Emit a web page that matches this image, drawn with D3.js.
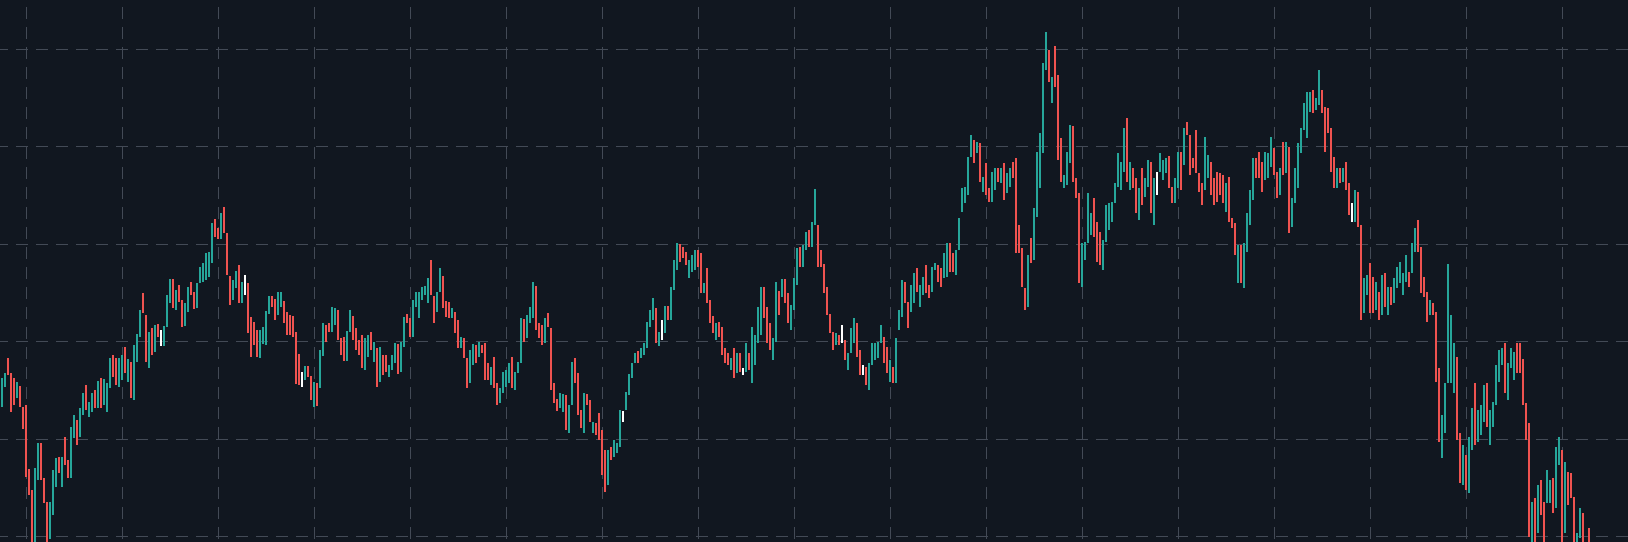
<!DOCTYPE html>
<html>
<head>
<meta charset="utf-8">
<script src="https://cdn.jsdelivr.net/npm/d3@7"></script>
<style>
  html, body { margin: 0; padding: 0; background: #121822; overflow: hidden; }
  svg { display: block; }
</style>
</head>
<body>
<svg id="chart" width="1628" height="542"></svg>
<script>
// ---- DATA (one value per bar) ----
const openPrices = [
193,213,242,227,222,202,214,193,195,131,110,52,120,157,122,98,61,85,113,143,
113,163,140,122,162,180,163,185,215,183,188,210,192,222,195,188,212,245,242,213,
220,253,218,238,200,238,263,307,285,232,272,248,276,254,254,273,297,321,290,315,
300,274,288,318,308,292,317,318,320,323,337,381,372,361,393,367,324,300,312,335,
297,305,317,283,278,270,242,256,255,286,304,301,285,293,299,288,285,284,268,246,
213,220,234,224,193,217,212,244,275,277,268,275,290,262,263,239,268,284,272,260,
265,230,243,268,238,252,218,245,245,223,230,237,256,228,253,286,282,263,293,282,
300,305,297,340,304,288,308,324,299,298,282,288,280,252,262,242,217,235,255,243,
255,257,237,215,243,217,197,207,213,217,243,210,227,237,281,262,277,282,314,277,
275,257,287,272,217,201,192,188,205,167,195,242,227,190,167,206,200,167,177,187,
170,150,115,153,143,147,153,178,190,205,222,237,249,242,245,252,273,280,292,254,
260,267,294,280,310,330,356,353,348,322,328,330,350,347,307,332,300,284,260,278,
273,252,247,230,252,227,247,225,228,247,217,235,257,265,313,293,277,240,258,309,
303,321,307,270,290,315,353,333,350,370,353,375,375,350,336,313,286,268,255,265,
257,260,230,247,257,277,250,225,233,210,235,240,242,257,263,253,218,233,217,270,
283,318,298,288,297,332,293,305,335,315,308,330,335,332,322,323,357,347,325,350,
388,397,405,443,460,447,457,408,437,412,398,410,432,417,437,407,413,438,442,375,
352,312,293,362,340,383,412,447,530,550,497,554,525,462,412,415,437,474,422,407,
313,340,357,365,402,378,368,330,358,370,378,397,413,410,428,482,410,432,422,380,
432,403,413,438,375,405,428,420,427,444,413,397,412,448,435,478,465,442,470,427,
417,410,422,438,422,428,427,425,388,423,382,377,317,355,312,348,375,400,442,448,
438,420,422,433,452,428,405,458,427,453,373,397,412,447,470,462,488,510,490,495,
510,493,492,472,443,412,432,418,438,417,378,378,408,375,287,305,337,323,290,308,
285,327,285,313,297,312,317,305,318,328,327,348,380,353,323,308,285,297,288,232,
142,167,217,217,207,243,167,115,145,107,150,217,158,165,178,217,155,173,195,218,
235,257,200,232,220,257,257,241,197,177,50,102,67,120,98,97,97,122,92,135,
150,67,128,127,103,50,62,87,52,72
];
const closePrices = [
222,227,225,188,195,218,193,171,123,105,52,132,157,120,97,55,98,130,142,127,
143,135,122,173,185,155,192,207,190,198,207,192,219,192,221,217,242,223,215,242,
245,227,241,202,255,266,290,287,238,268,245,275,263,270,274,305,321,292,310,298,
273,297,313,305,291,317,333,337,347,348,377,363,361,387,367,325,295,320,329,297,
318,325,267,243,255,243,270,273,289,304,293,280,308,308,277,265,265,263,216,215,
228,234,223,200,218,194,250,277,258,268,293,292,260,245,239,269,290,260,250,245,
232,262,265,250,258,213,253,225,228,235,245,257,226,258,283,277,263,300,308,308,
313,314,322,305,277,308,332,292,283,282,292,267,252,263,242,212,250,256,237,258,
247,220,220,233,212,195,212,228,230,237,212,228,238,282,258,285,293,318,270,262,
255,282,273,210,197,189,207,206,170,195,238,217,185,172,207,195,178,178,165,160,
125,108,150,140,160,157,190,189,208,226,237,247,237,252,257,278,290,302,257,268,
280,294,280,313,340,357,338,342,335,340,345,350,333,307,317,297,277,267,277,263,
245,237,235,242,222,247,228,232,257,230,273,265,293,313,282,257,250,262,318,285,
321,297,277,295,322,352,333,355,368,353,378,411,333,333,307,285,267,250,267,255,
275,240,247,272,282,243,225,235,215,237,257,257,258,275,237,227,240,217,262,290,
320,297,272,315,327,308,315,323,307,302,333,337,318,313,347,357,328,328,350,382,
412,413,443,465,437,458,418,423,405,398,428,432,418,432,400,427,432,422,347,347,
313,290,345,337,392,448,467,537,568,518,523,513,440,418,425,448,475,418,402,317,
357,358,407,387,363,338,335,360,395,397,398,417,447,438,472,418,438,412,387,412,
395,422,440,387,422,428,447,440,442,412,397,422,448,410,472,465,425,432,427,408,
395,463,445,405,395,398,405,397,417,378,372,345,355,317,357,387,410,442,422,422,
408,448,447,463,425,402,432,425,458,367,402,432,457,472,497,508,508,487,502,530,
487,448,467,428,412,432,417,432,410,385,397,410,373,280,322,325,287,287,318,280,
325,293,313,295,322,333,338,327,345,313,357,372,348,307,303,278,300,285,218,158,
185,217,336,285,257,160,117,155,110,163,192,155,190,195,215,173,190,198,235,250,
252,207,237,252,248,227,227,195,160,63,98,50,115,85,50,130,120,87,153,163,
50,138,95,102,50,67,92,50,40,50
];
// bars whose candle is drawn in the neutral (white) colour
const neutralBars = [53, 81, 100, 207, 220, 247, 280, 287, 385, 450];
// horizontal grid levels (price) and vertical grid positions (bar index)
const gridPrices = [64, 161.4, 258.8, 356.2, 453.6, 551];
const gridBars = [8, 40, 72, 104, 136, 168, 200, 232, 264, 296, 328, 360, 392, 424, 456, 488, 520];

// ---- CHART ----
const W = 1628, H = 542;
const svg = d3.select("#chart");
const N = openPrices.length;

const x = d3.scaleLinear().domain([0, N - 1]).range([2, 2 + 3 * (N - 1)]);
const y = d3.scaleLinear().domain([0, 600]).range([600, 0]);

svg.append("rect").attr("width", W).attr("height", H).attr("fill", "#111720");

const grid = svg.append("g").attr("stroke", "#434a56").attr("stroke-width", 1).attr("fill", "none")
  .attr("shape-rendering", "crispEdges");
grid.selectAll("line.h").data(gridPrices).join("line")
  .attr("class", "h")
  .attr("x1", 0).attr("x2", W)
  .attr("y1", d => Math.round(y(d)) + 0.5).attr("y2", d => Math.round(y(d)) + 0.5)
  .attr("stroke-dasharray", "12,8").attr("stroke-dashoffset", 4);
grid.selectAll("line.v").data(gridBars).join("line")
  .attr("class", "v")
  .attr("y1", 0).attr("y2", H)
  .attr("x1", d => Math.round(x(d)) + 0.5).attr("x2", d => Math.round(x(d)) + 0.5)
  .attr("stroke-dasharray", "12,8").attr("stroke-dashoffset", 13);

const neutral = new Set(neutralBars);
const bars = d3.range(N).map(i => ({ i, o: openPrices[i], c: closePrices[i] }));

svg.append("g").attr("shape-rendering", "crispEdges").selectAll("rect").data(bars).join("rect")
  .attr("x", d => Math.round(x(d.i)) - 1)
  .attr("width", 2)
  .attr("y", d => y(Math.max(d.o, d.c)))
  .attr("height", d => Math.max(1, Math.abs(y(d.o) - y(d.c))))
  .attr("fill", d => neutral.has(d.i) ? "#ffffff" : (d.c >= d.o ? "#26a69a" : "#ef5350"));
</script>
</body>
</html>
